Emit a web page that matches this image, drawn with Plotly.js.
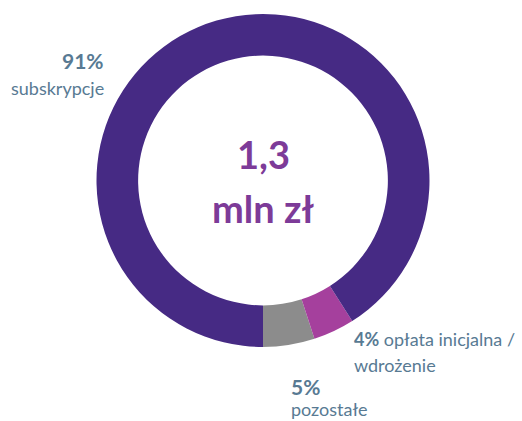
<!DOCTYPE html>
<html>
<head>
<meta charset="utf-8">
<script src="https://cdn.plot.ly/plotly-3.0.1.min.js"></script>
<style>
  html, body { margin: 0; padding: 0; background: #fff; }
  #chart { width: 522px; height: 421px; }
</style>
</head>
<body>
<div id="chart"></div>
<script>
// kolejność od dołu, przeciwnie do ruchu wskazówek zegara
const categories = ['pozostałe', 'opłata inicjalna /<br>wdrożenie', 'subskrypcje'];
const shares = [5, 4, 91];
const colors = ['#8c8c8c', '#a5409d', '#462a84'];
const centerLines = ['1,3', 'mln zł'];

const labelColor = '#587a93';
const font = 'Lato, "Open Sans", sans-serif';

const donut = {
    type: 'pie',
    labels: categories,
    values: shares,
    sort: false,
    direction: 'counterclockwise',
    rotation: 162,
    hole: 0.75,
    textinfo: 'none',
    hoverinfo: 'none',
    marker: { colors: colors, line: { width: 0 } },
    domain: { x: [96 / 522, 430 / 522], y: [74 / 421, 407 / 421] },
    showlegend: false
};

// podpisy segmentów: procent pogrubiony + nazwa
const pct = (i) => '<b>' + shares[i] + '%</b>';
const annotations = [
    { x: 106 / 522, y: 1 - 60 / 421, xanchor: 'right', text: pct(2), size: 21 },
    { x: 106 / 522, y: 1 - 88 / 421, xanchor: 'right', text: categories[2], size: 18 },
    { x: 352 / 522, y: 1 - 339 / 421, xanchor: 'left', text: pct(1) + ' ' + categories[1].split('<br>')[0], size: 18 },
    { x: 352 / 522, y: 1 - 365 / 421, xanchor: 'left', text: categories[1].split('<br>')[1], size: 18 },
    { x: 289 / 522, y: 1 - 386 / 421, xanchor: 'left', text: pct(0), size: 21 },
    { x: 289 / 522, y: 1 - 409 / 421, xanchor: 'left', text: categories[0], size: 18 }
].map(a => ({
    xref: 'paper', yref: 'paper', x: a.x, y: a.y,
    xanchor: a.xanchor, yanchor: 'middle', showarrow: false,
    text: a.text, font: { family: font, size: a.size, color: labelColor }
}));

centerLines.forEach((t, i) => {
    annotations.push({
        xref: 'paper', yref: 'paper', x: 263 / 522, y: 1 - (154 + i * 54) / 421,
        xanchor: 'center', yanchor: 'middle', showarrow: false,
        text: '<b>' + t + '</b>',
        font: { family: font, size: 38, color: '#7d3b98' }
    });
});

const layout = {
    width: 522,
    height: 421,
    margin: { l: 0, r: 0, t: 0, b: 0 },
    paper_bgcolor: '#fff',
    annotations: annotations
};

Plotly.newPlot('chart', [donut], layout, { displayModeBar: false, staticPlot: true });
</script>
</body>
</html>
